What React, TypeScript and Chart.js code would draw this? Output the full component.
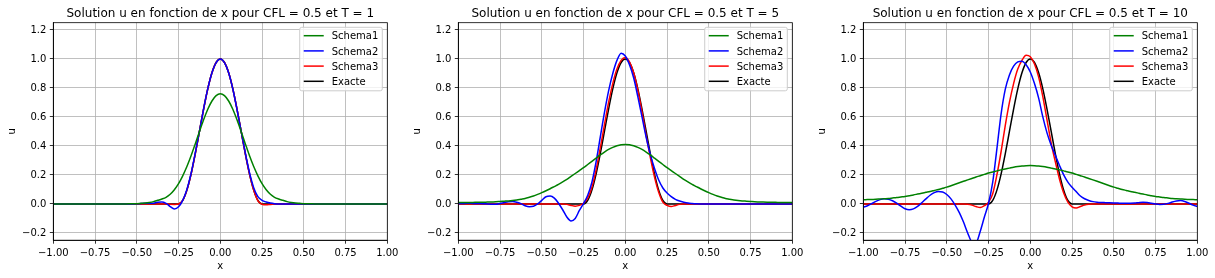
import React, { useEffect, useRef } from "react";
import { Chart, registerables } from "chart.js";

Chart.register(...registerables);

// ---------- DATA ----------
const X = [
  -1, -0.975, -0.95, -0.925, -0.9, -0.875, -0.85, -0.825, -0.8, -0.775,
  -0.75, -0.725, -0.7, -0.675, -0.65, -0.625, -0.6, -0.575, -0.55, -0.525,
  -0.5, -0.475, -0.45, -0.425, -0.4, -0.375, -0.35, -0.325, -0.3, -0.275,
  -0.25, -0.225, -0.2, -0.175, -0.15, -0.125, -0.1, -0.075, -0.05, -0.025,
  0,
  0.025, 0.05, 0.075, 0.1, 0.125, 0.15, 0.175, 0.2, 0.225, 0.25,
  0.275, 0.3, 0.325, 0.35, 0.375, 0.4, 0.425, 0.45, 0.475, 0.5,
  0.525, 0.55, 0.575, 0.6, 0.625, 0.65, 0.675, 0.7, 0.725, 0.75,
  0.775, 0.8, 0.825, 0.85, 0.875, 0.9, 0.925, 0.95, 0.975, 1,
];

const exacte = [
  0, 0, 0, 0, 0, 0, 0, 0, 0, 0,
  0, 0, 0, 0, 0, 0, 0, 0, 0, 0,
  0, 0, 0, 0, 0, 0, 0, 0, 0, 0,
  0, 0.0245, 0.0955, 0.2061, 0.3455, 0.5, 0.6545, 0.7939, 0.9045, 0.9755,
  1,
  0.9755, 0.9045, 0.7939, 0.6545, 0.5, 0.3455, 0.2061, 0.0955, 0.0245, 0,
  0, 0, 0, 0, 0, 0, 0, 0, 0, 0,
  0, 0, 0, 0, 0, 0, 0, 0, 0, 0,
  0, 0, 0, 0, 0, 0, 0, 0, 0, 0,
];

// T = 1
const schema1_T1 = [
  0, 0, 0, 0, 0, 0, 0, 0, 0, 0,
  0, 0, 0, 0, 0, 0, 0, 0, 0.001, 0.001,
  0.002, 0.004, 0.006, 0.01, 0.016, 0.025, 0.034, 0.046, 0.067, 0.098,
  0.14, 0.194, 0.258, 0.332, 0.414, 0.498, 0.58, 0.653, 0.71, 0.747,
  0.76,
  0.747, 0.71, 0.653, 0.58, 0.498, 0.414, 0.332, 0.258, 0.194, 0.14,
  0.098, 0.067, 0.046, 0.034, 0.025, 0.016, 0.01, 0.006, 0.004, 0.002,
  0.001, 0.001, 0, 0, 0, 0, 0, 0, 0, 0,
  0, 0, 0, 0, 0, 0, 0, 0, 0, 0,
];
const schema2_T1 = [
  0, 0, 0, 0, 0, 0, 0, 0, 0, 0,
  0, 0, 0, 0, 0, 0, 0, 0, 0, 0,
  0.001, 0.003, 0.004, 0.004, 0.005, 0.012, 0.013, 0.004, -0.018, -0.035,
  -0.02, 0.025, 0.1, 0.21, 0.35, 0.5, 0.655, 0.795, 0.905, 0.975,
  1.0,
  0.975, 0.905, 0.793, 0.652, 0.5, 0.35, 0.215, 0.112, 0.05, 0.025,
  0.013, 0.006, 0.002, 0, 0, 0, 0, 0, 0, 0,
  0, 0, 0, 0, 0, 0, 0, 0, 0, 0,
  0, 0, 0, 0, 0, 0, 0, 0, 0, 0,
];
const schema3_T1 = [
  0, 0, 0, 0, 0, 0, 0, 0, 0, 0,
  0, 0, 0, 0, 0, 0, 0, 0, 0, 0,
  0, 0, 0, 0, 0, 0, 0, 0, -0.002, -0.003,
  0, 0.025, 0.0955, 0.2061, 0.3455, 0.5, 0.6545, 0.7939, 0.9045, 0.9755,
  1,
  0.9755, 0.9045, 0.7939, 0.6545, 0.5, 0.3455, 0.2061, 0.0955, 0.022, -0.002,
  -0.006, -0.003, -0.001, 0, 0, 0, 0, 0, 0, 0,
  0, 0, 0, 0, 0, 0, 0, 0, 0, 0,
  0, 0, 0, 0, 0, 0, 0, 0, 0, 0,
];

// T = 5
const schema1_T5 = [
  0.01, 0.01, 0.01, 0.01, 0.011, 0.011, 0.012, 0.013, 0.014, 0.015,
  0.017, 0.019, 0.021, 0.024, 0.028, 0.033, 0.038, 0.046, 0.055, 0.066,
  0.078, 0.091, 0.105, 0.12, 0.135, 0.152, 0.17, 0.19, 0.21, 0.23,
  0.25, 0.272, 0.294, 0.316, 0.338, 0.358, 0.376, 0.39, 0.401, 0.408,
  0.41,
  0.408, 0.401, 0.39, 0.376, 0.358, 0.338, 0.316, 0.294, 0.272, 0.25,
  0.23, 0.21, 0.19, 0.17, 0.152, 0.135, 0.12, 0.105, 0.091, 0.078,
  0.066, 0.055, 0.046, 0.038, 0.033, 0.028, 0.024, 0.021, 0.019, 0.017,
  0.015, 0.014, 0.013, 0.012, 0.011, 0.011, 0.01, 0.01, 0.01, 0.01,
];
const schema2_T5 = [
  0.002, 0.003, 0.004, 0.004, 0.003, 0.003, 0.002, 0, -0.002, -0.002,
  0.003, 0.01, 0.016, 0.017, 0.012, 0.002, -0.012, -0.019, -0.016, 0,
  0.025, 0.05, 0.054, 0.04, 0.005, -0.04, -0.09, -0.117, -0.1, -0.045,
  0.003, 0.06, 0.15, 0.29, 0.46, 0.63, 0.78, 0.9, 0.99, 1.04,
  1.02,
  0.96, 0.87, 0.74, 0.6, 0.46, 0.34, 0.245, 0.165, 0.11, 0.075,
  0.05, 0.032, 0.02, 0.012, 0.006, 0.003, 0.001, 0, 0, 0,
  0, 0, 0, 0, 0, 0, 0, 0, 0, 0,
  0, 0, 0, 0, 0, 0, 0, 0, 0, 0,
];
const schema3_T5 = [
  0, 0, 0, 0, 0, 0, 0, 0, 0, 0,
  0, 0, 0, 0, 0, 0, 0, 0, 0, 0,
  0, 0, 0, 0, 0, 0, -0.003, -0.01, -0.015, -0.01,
  0.005, 0.04, 0.115, 0.235, 0.385, 0.545, 0.7, 0.83, 0.93, 0.99,
  1.01,
  0.98, 0.905, 0.785, 0.635, 0.47, 0.32, 0.185, 0.08, 0.012, -0.01,
  -0.018, -0.01, -0.003, 0, 0, 0, 0, 0, 0, 0,
  0, 0, 0, 0, 0, 0, 0, 0, 0, 0,
  0, 0, 0, 0, 0, 0, 0, 0, 0, 0,
];

// T = 10
const schema1_T10 = [
  0.029, 0.03, 0.031, 0.032, 0.034, 0.036, 0.038, 0.041, 0.044, 0.048,
  0.052, 0.057, 0.062, 0.068, 0.074, 0.08, 0.086, 0.093, 0.1, 0.108,
  0.116, 0.126, 0.136, 0.146, 0.156, 0.166, 0.176, 0.186, 0.195, 0.204,
  0.213, 0.221, 0.228, 0.235, 0.241, 0.247, 0.253, 0.258, 0.262, 0.264,
  0.265,
  0.264, 0.262, 0.258, 0.253, 0.247, 0.241, 0.235, 0.228, 0.221, 0.213,
  0.204, 0.195, 0.186, 0.176, 0.166, 0.156, 0.146, 0.136, 0.126, 0.116,
  0.108, 0.1, 0.093, 0.086, 0.08, 0.074, 0.068, 0.062, 0.057, 0.052,
  0.048, 0.044, 0.041, 0.038, 0.036, 0.034, 0.032, 0.031, 0.03, 0.029,
];
const schema2_T10 = [
  -0.022, -0.012, 0.002, 0.018, 0.03, 0.036, 0.033, 0.022, 0.005, -0.015,
  -0.033, -0.04, -0.034, -0.017, 0.008, 0.035, 0.06, 0.078, 0.086, 0.083,
  0.065, 0.035, -0.008, -0.06, -0.125, -0.2, -0.26, -0.265, -0.19, -0.09,
  0.005, 0.15, 0.38, 0.62, 0.79, 0.89, 0.95, 0.98, 0.985, 0.96,
  0.91,
  0.83, 0.73, 0.6, 0.49, 0.405, 0.335, 0.265, 0.2, 0.15, 0.115,
  0.085, 0.055, 0.036, 0.024, 0.016, 0.012, 0.01, 0.009, 0.008, 0.007,
  0.006, 0.005, 0.005, 0.005, 0.006, 0.009, 0.011, 0.01, 0.005, 0,
  -0.003, -0.002, 0.004, 0.013, 0.02, 0.023, 0.017, 0.005, -0.008, -0.017,
];
const schema3_T10 = [
  0, 0, 0, 0, 0, 0, 0, 0, 0, 0,
  0, 0, 0, 0, 0, 0, 0, 0, 0, 0,
  0, 0, 0, 0, 0, -0.002, -0.008, -0.018, -0.025, -0.012,
  0.012, 0.07, 0.2, 0.36, 0.54, 0.7, 0.83, 0.93, 0.99, 1.025,
  1.015,
  0.965, 0.875, 0.74, 0.58, 0.42, 0.29, 0.17, 0.075, 0.012, -0.02,
  -0.028, -0.018, -0.008, -0.002, 0, 0, 0, 0, 0, 0,
  0, 0, 0, 0, 0, 0, 0, 0, 0, 0,
  0, 0, 0, 0, 0, 0, 0, 0, 0, 0,
];

const xTicks = [-1, -0.75, -0.5, -0.25, 0, 0.25, 0.5, 0.75, 1];
const yTicks = [-0.2, 0, 0.2, 0.4, 0.6, 0.8, 1.0, 1.2];
const seriesNames = ["Schema1", "Schema2", "Schema3", "Exacte"];
const seriesColors = ["#008000", "#0000ff", "#ff0000", "#000000"];
const titles = [
  "Solution u en fonction de x pour CFL = 0.5 et T = 1",
  "Solution u en fonction de x pour CFL = 0.5 et T = 5",
  "Solution u en fonction de x pour CFL = 0.5 et T = 10",
];
const panelSeries = [
  [schema1_T1, schema2_T1, schema3_T1, exacte],
  [schema1_T5, schema2_T5, schema3_T5, exacte],
  [schema1_T10, schema2_T10, schema3_T10, exacte],
];

// ---------- LAYOUT ----------
const FAMILY = "'DejaVu Sans', sans-serif";
const CANVAS_W = 402;
const CANVAS_H = 278;
const PANEL_LEFTS = [0, 405, 810];
const AREA_LEFT = 53.3;
const AREA_RIGHT = 387.3;
const AREA_TOP = 22.7;
const AREA_BOTTOM = 240.2;

const fmt = (v: number, d: number) => {
  const s = Math.abs(v).toFixed(d);
  return v < -1e-9 ? "\u2212" + s : s;
};

function makeDecor(title: string) {
  return {
    id: "decor",
    afterDatasetsDraw(chart: any) {
      const ctx = chart.ctx as CanvasRenderingContext2D;
      const a = chart.chartArea;
      ctx.save();
      // frame (spines)
      ctx.strokeStyle = "#000";
      ctx.lineWidth = 0.8;
      ctx.strokeRect(a.left, a.top, a.right - a.left, a.bottom - a.top);

      // legend
      ctx.font = `10px ${FAMILY}`;
      const tw = Math.max(...seriesNames.map((n) => ctx.measureText(n).width));
      const boxW = 4 + 20 + 8 + tw + 4;
      const boxR = a.right - 5;
      const boxL = boxR - boxW;
      const boxT = a.top + 4.6;
      const boxH = 63.5;
      const r = 2;
      ctx.beginPath();
      ctx.moveTo(boxL + r, boxT);
      ctx.lineTo(boxR - r, boxT);
      ctx.quadraticCurveTo(boxR, boxT, boxR, boxT + r);
      ctx.lineTo(boxR, boxT + boxH - r);
      ctx.quadraticCurveTo(boxR, boxT + boxH, boxR - r, boxT + boxH);
      ctx.lineTo(boxL + r, boxT + boxH);
      ctx.quadraticCurveTo(boxL, boxT + boxH, boxL, boxT + boxH - r);
      ctx.lineTo(boxL, boxT + r);
      ctx.quadraticCurveTo(boxL, boxT, boxL + r, boxT);
      ctx.closePath();
      ctx.fillStyle = "rgba(255,255,255,0.8)";
      ctx.fill();
      ctx.strokeStyle = "#cccccc";
      ctx.lineWidth = 1;
      ctx.stroke();

      seriesNames.forEach((name, i) => {
        const y = boxT + 8.4 + i * 15.2;
        ctx.beginPath();
        ctx.strokeStyle = seriesColors[i];
        ctx.lineWidth = 1.5;
        ctx.moveTo(boxL + 4, y);
        ctx.lineTo(boxL + 24, y);
        ctx.stroke();
        ctx.fillStyle = "#000";
        ctx.textAlign = "left";
        ctx.textBaseline = "alphabetic";
        ctx.fillText(name, boxL + 32, y + 3.6);
      });

      // title
      ctx.font = `12px ${FAMILY}`;
      ctx.fillStyle = "#000";
      ctx.textAlign = "center";
      ctx.textBaseline = "alphabetic";
      ctx.fillText(title, (a.left + a.right) / 2, 16.5);
      ctx.restore();
    },
  };
}

function Panel({ index }: { index: number }) {
  const ref = useRef<HTMLCanvasElement>(null);
  useEffect(() => {
    const canvas = ref.current;
    if (!canvas) return;
    const series = panelSeries[index];
    const chart = new Chart(canvas, {
      type: "line",
      data: {
        datasets: series.map((ys, k) => ({
          label: seriesNames[k],
          data: X.map((x, i) => ({ x, y: ys[i] })),
          borderColor: seriesColors[k],
          backgroundColor: seriesColors[k],
          borderWidth: 1.5,
          pointRadius: 0,
          fill: false,
          cubicInterpolationMode: "monotone" as const,
          clip: 0,
        })),
      },
      options: {
        responsive: false,
        animation: false,
        events: [],
        layout: {
          padding: {
            top: AREA_TOP,
            left: 0,
            right: CANVAS_W - AREA_RIGHT,
            bottom: 0,
          },
        },
        plugins: {
          legend: { display: false },
          title: { display: false },
          tooltip: { enabled: false },
        },
        scales: {
          x: {
            type: "linear",
            min: -1,
            max: 1,
            afterBuildTicks: (s: any) => {
              s.ticks = xTicks.map((v) => ({ value: v }));
            },
            afterFit: (s: any) => {
              s.height = CANVAS_H - AREA_BOTTOM;
            },
            ticks: {
              autoSkip: false,
              maxRotation: 0,
              minRotation: 0,
              padding: 3.5,
              color: "#000",
              font: { family: FAMILY, size: 10 },
              callback: (v: any) => fmt(Number(v), 2),
            },
            grid: {
              color: "#b0b0b0",
              lineWidth: 0.8,
              tickColor: "#000",
              tickLength: 3.5,
              tickWidth: 0.8,
            },
            border: { display: true, color: "#000", width: 0.8 },
            title: {
              display: true,
              text: "x",
              color: "#000",
              font: { family: FAMILY, size: 10 },
              padding: { top: 0, bottom: 5.3 },
            },
          },
          y: {
            type: "linear",
            min: -0.25,
            max: 1.25,
            afterBuildTicks: (s: any) => {
              s.ticks = yTicks.map((v) => ({ value: v }));
            },
            afterFit: (s: any) => {
              s.width = AREA_LEFT;
            },
            ticks: {
              padding: 3.5,
              color: "#000",
              font: { family: FAMILY, size: 10 },
              callback: (v: any) => fmt(Number(v), 1),
            },
            grid: {
              color: "#b0b0b0",
              lineWidth: 0.8,
              tickColor: "#000",
              tickLength: 3.5,
              tickWidth: 0.8,
            },
            border: { display: true, color: "#000", width: 0.8 },
            title: {
              display: true,
              text: "u",
              color: "#000",
              font: { family: FAMILY, size: 10 },
              padding: { top: 6.7, bottom: 0 },
            },
          },
        },
      },
      plugins: [makeDecor(titles[index])],
    } as any);
    return () => chart.destroy();
  }, [index]);
  return (
    <canvas
      ref={ref}
      width={CANVAS_W}
      height={CANVAS_H}
      style={{
        position: "absolute",
        left: PANEL_LEFTS[index],
        top: 0,
        width: CANVAS_W,
        height: CANVAS_H,
      }}
    />
  );
}

export default function App() {
  return (
    <div
      style={{
        position: "absolute",
        left: 0,
        top: 0,
        width: 1215,
        height: 278,
        background: "#fff",
      }}
    >
      <Panel index={0} />
      <Panel index={1} />
      <Panel index={2} />
    </div>
  );
}
